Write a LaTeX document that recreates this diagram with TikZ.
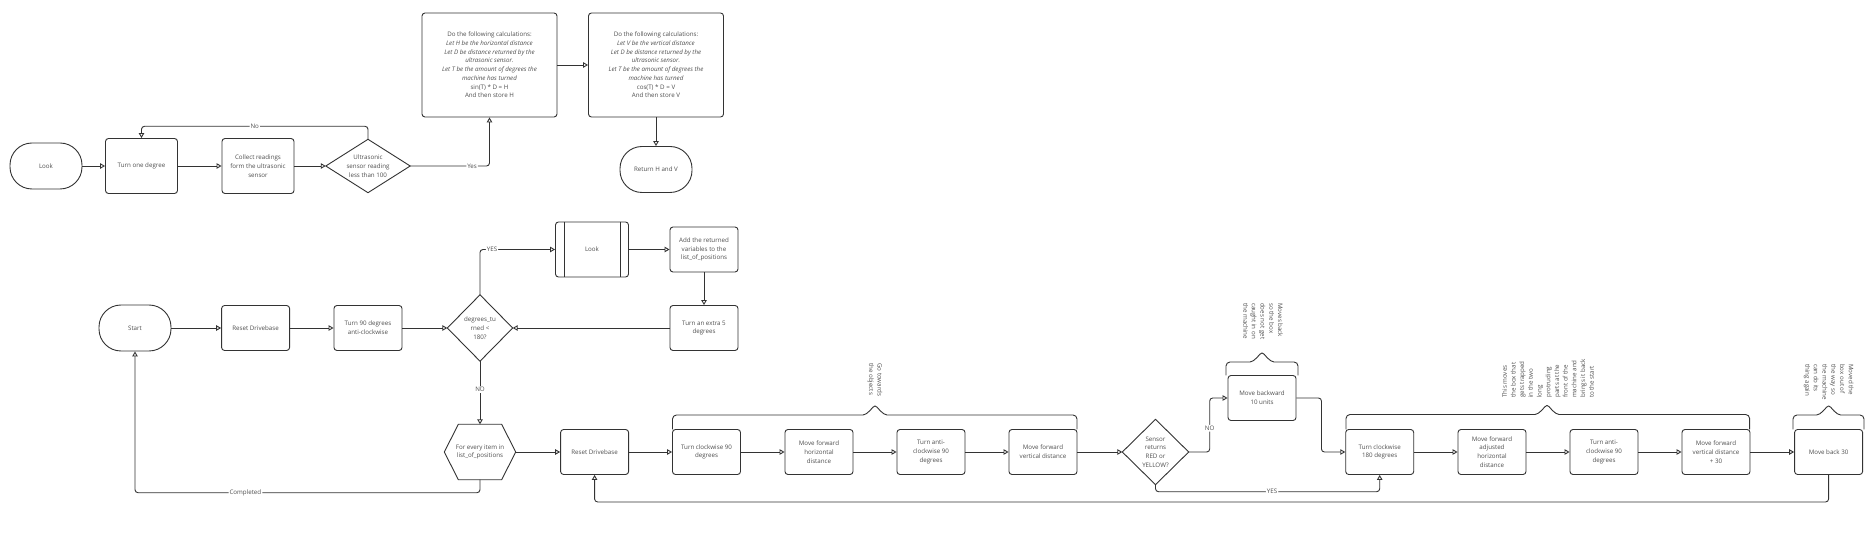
\documentclass[tikz,border=0pt]{standalone}
\usepackage{fontspec}
\setmainfont{Open Sans}
\usetikzlibrary{arrows.meta}
\definecolor{linec}{HTML}{333333}
\definecolor{textc}{HTML}{4F4F4F}
\tikzset{
  every node/.style={font=\fontsize{6.2}{8.7}\selectfont,text=textc},
  box/.style={draw=linec,line width=0.9pt,rounded corners=3pt,align=center,inner sep=2pt,minimum width=68pt,minimum height=45pt},
  term/.style={box,rounded corners=22pt,minimum width=72pt,minimum height=46pt},
  calcbox/.style={box,minimum width=135pt,minimum height=104pt},
  decision/.style={align=center,inner sep=0pt},
  shapeline/.style={draw=linec,line width=0.9pt,line join=round},
  conn/.style={draw=linec,line width=0.9pt,rounded corners=3pt,->},
  lbl/.style={fill=white,inner sep=1pt},
  brace/.style={draw=linec,line width=0.9pt,rounded corners=4pt},
  note/.style={align=left,inner sep=0pt}
}
\begin{document}
\begin{tikzpicture}[x=1pt,y=-1pt,line join=round,>={Triangle[open,length=5pt,width=5.5pt]}]
\useasboundingbox[fill=white] (0,0) rectangle (1872,534);
% Look subroutine
\node[term] (look) at (46,166) {Look};
\node[box,minimum width=72pt,minimum height=55pt] (turnone) at (141.5,166) {Turn one degree};
\node[box,minimum width=72pt,minimum height=55pt] (collect) at (258,166) {Collect readings\\form the ultrasonic\\sensor};
\node[decision,minimum width=84pt,minimum height=53pt] (sensorq) at (368,166) {Ultrasonic\\sensor reading\\less than 100};
\node[calcbox] (calch) at (489.5,65) {Do the following calculations:\\\textit{Let H be the horizontal distance}\\\textit{Let D be distance returned by the}\\\textit{ultrasonic sensor.}\\\textit{Let T be the amount of degrees the}\\\textit{machine has turned}\\sin(T) * D = H\\And then store H};
\node[calcbox] (calcv) at (656,65) {Do the following calculations:\\\textit{Let V be the vertical distance}\\\textit{Let D be distance returned by the}\\\textit{ultrasonic sensor.}\\\textit{Let T be the amount of degrees the}\\\textit{machine has turned}\\cos(T) * D = V\\And then store V};
\node[term] (retv) at (656,169.5) {Return H and V};
% main program
\node[term] (start) at (135,328) {Start};
\node[box] (reset) at (255.6,328) {Reset Drivebase};
\node[box] (turnninety) at (368,328) {Turn 90 degrees\\anti-clockwise};
\node[decision,minimum width=65pt,minimum height=66pt] (degq) at (480,328) {degrees\_tu\\rned <\\180?};
\node[box,minimum width=73pt,minimum height=55pt] (lookcall) at (592,249.5) {Look};
\node[box] (addpos) at (704,249.5) {Add the returned\\variables to the\\list\_of\_positions};
\node[box] (extra) at (704,328) {Turn an extra 5\\degrees};
\node[decision,minimum width=71pt,minimum height=55pt] (eachpos) at (480,452) {For every item in\\list\_of\_positions};
\node[box] (resetb) at (594.6,452) {Reset Drivebase};
\node[box] (turncw) at (706.5,452) {Turn clockwise 90\\degrees};
\node[box] (fwdh) at (819,452) {Move forward\\horizontal\\distance};
\node[box] (turnacw) at (931,452) {Turn anti-\\clockwise 90\\degrees};
\node[box] (fwdv) at (1043,452) {Move forward\\vertical distance};
\node[decision,minimum width=66pt,minimum height=65pt] (colourq) at (1155.5,452) {Sensor\\returns\\RED or\\YELLOW?};
\node[box] (back) at (1262,398) {Move backward\\10 units};
\node[box] (turnhalf) at (1379.7,452) {Turn clockwise\\180 degrees};
\node[box] (fwdadj) at (1492,452) {Move forward\\adjusted\\horizontal\\distance};
\node[box] (turnacwb) at (1604,452) {Turn anti-\\clockwise 90\\degrees};
\node[box] (fwdvb) at (1716,452) {Move forward\\vertical distance\\+ 30};
\node[box] (backthirty) at (1828.6,452) {Move back 30};
% outlines of the odd shapes
\foreach \n in {sensorq,degq,colourq}{
  \draw[shapeline] (\n.north) -- (\n.east) -- (\n.south) -- (\n.west) -- cycle;}
\draw[shapeline] ([xshift=14pt]eachpos.north west) -- ([xshift=-14pt]eachpos.north east) -- (eachpos.east)
  -- ([xshift=-14pt]eachpos.south east) -- ([xshift=14pt]eachpos.south west) -- (eachpos.west) -- cycle;
\draw[shapeline] ([xshift=9pt]lookcall.north west) -- ([xshift=9pt]lookcall.south west)
  ([xshift=-9pt]lookcall.north east) -- ([xshift=-9pt]lookcall.south east);
% braces and notes
\foreach \xa/\xb/\xp/\yt/\yb in {672.5/1077/875/415/429.5,1226/1298/1262/362/375.5,1346/1749.6/1547/414.5/429.5,1793/1864/1828.6/415/429.5}{
  \draw[brace] (\xa,\yb) -- (\xa,\yt) -- ({\xp-16},\yt) .. controls ({\xp-8},\yt) and ({\xp-2},{\yt-8}) .. (\xp,{\yt-11})
    .. controls ({\xp+2},{\yt-8}) and ({\xp+8},\yt) .. ({\xp+16},\yt) -- (\xb,\yt) -- (\xb,\yb);}
\node[note,rotate=-90,anchor=west] (notego) at (875,363) {Go towards\\the objects};
\node[note,rotate=-90,anchor=west] (noteback) at (1263,303) {Moves back\\so the box\\does not get\\caught in on\\the machine};
\node[note,rotate=90,anchor=west] (notetrap) at (1548,398) {This moves\\the box that\\gets trapped\\in the two\\long\\protruding\\parts at the\\front of the\\machine and\\brings it back\\to the start};
\node[note,rotate=-90,anchor=west] (noteclear) at (1828.6,364) {Moved the\\box out of\\the way so\\the machine\\can do its\\thing again};
% connectors
\draw[conn] (look) -- (turnone);
\draw[conn] (turnone) -- (collect);
\draw[conn] (collect) -- (sensorq.west);
\draw[conn] (sensorq.north) -- ++(0,-13) -| node[lbl,pos=0.25]{No} (turnone.north);
\draw[conn] (sensorq.east) -| node[lbl,pos=0.39]{Yes} (calch.south);
\draw[conn] (calch) -- (calcv);
\draw[conn] (calcv) -- (retv);
\draw[conn] (start) -- (reset);
\draw[conn] (reset) -- (turnninety);
\draw[conn] (turnninety) -- (degq.west);
\draw[conn] (degq.north) |- node[lbl,pos=0.58]{YES} (lookcall.west);
\draw[conn] (lookcall) -- (addpos);
\draw[conn] (addpos) -- (extra);
\draw[conn] (extra) -- (degq.east);
\draw[conn] (degq.south) -- node[lbl,pos=0.45]{NO} (eachpos.north);
\draw[conn] (eachpos.south) -- ++(0,13) -| node[lbl,pos=0.34]{Completed} (start.south);
\draw[conn] (eachpos.east) -- (resetb);
\draw[conn] (resetb) -- (turncw);
\draw[conn] (turncw) -- (fwdh);
\draw[conn] (fwdh) -- (turnacw);
\draw[conn] (turnacw) -- (fwdv);
\draw[conn] (fwdv) -- (colourq.west);
\draw[conn] (colourq.east) -- ++(21,0) |- node[lbl,pos=0.22]{NO} (back.west);
\draw[conn] (back.east) -- ++(25,0) |- (turnhalf.west);
\draw[conn] (colourq.south) -- ++(0,7) -| node[lbl,pos=0.26]{YES} (turnhalf.south);
\draw[conn] (turnhalf) -- (fwdadj);
\draw[conn] (fwdadj) -- (turnacwb);
\draw[conn] (turnacwb) -- (fwdvb);
\draw[conn] (fwdvb) -- (backthirty);
\draw[conn] (backthirty.south) -- ++(0,27) -| (resetb.south);
\end{tikzpicture}
\end{document}
